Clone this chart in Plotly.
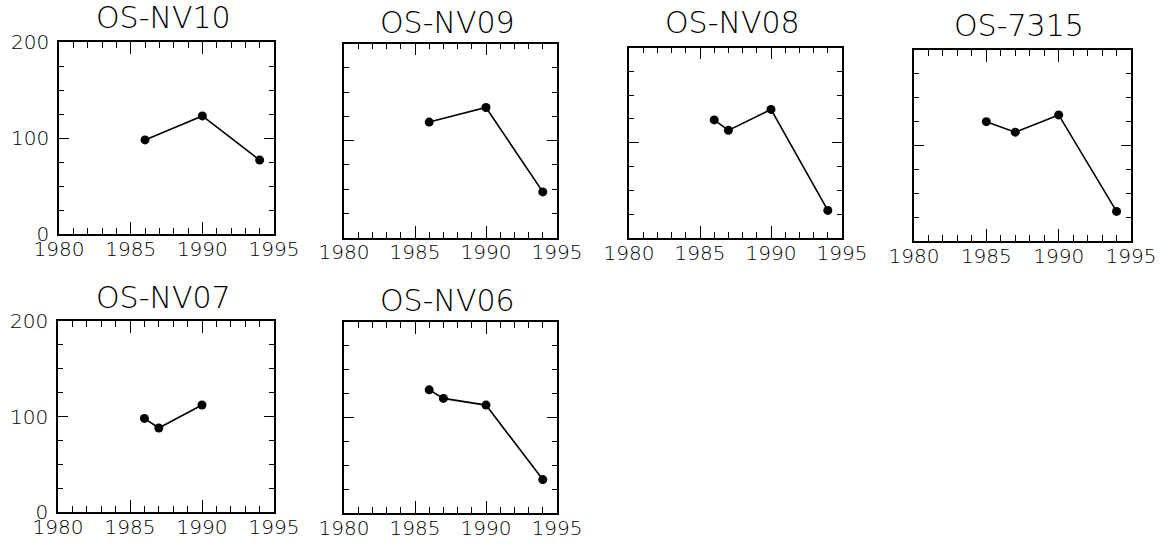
import plotly.graph_objects as go

W, H = 1168, 546

titles = ["OS-NV10", "OS-NV09", "OS-NV08", "OS-7315", "OS-NV07", "OS-NV06"]

years_nv10 = [1986, 1990, 1994]
vals_nv10 = [98, 123, 77]
years_nv09 = [1986, 1990, 1994]
vals_nv09 = [119, 134, 47]
years_nv08 = [1986, 1987, 1990, 1994]
vals_nv08 = [124, 113, 135, 29]
years_7315 = [1985, 1987, 1990, 1994]
vals_7315 = [125, 114, 132, 31]
years_nv07 = [1986, 1987, 1990]
vals_nv07 = [98, 88, 112]
years_nv06 = [1986, 1987, 1990, 1994]
vals_nv06 = [129, 120, 113, 35]

x_range = [1980, 1995]
y_range = [0, 200]
x_major = [1980, 1985, 1990, 1995]
y_major = [0, 100, 200]

series = [
    (years_nv10, vals_nv10),
    (years_nv09, vals_nv09),
    (years_nv08, vals_nv08),
    (years_7315, vals_7315),
    (years_nv07, vals_nv07),
    (years_nv06, vals_nv06),
]

# panel boxes in pixels: left, right, top, bottom
boxes = [
    (59, 274, 42, 234),
    (344, 557, 43.5, 237.5),
    (629, 842, 47.5, 238),
    (914, 1131, 50, 241),
    (58, 274, 321, 512),
    (344, 557, 322, 513),
]
title_y = [18, 23, 23, 25.5, 297, 300]
show_y_labels = [True, False, False, False, True, False]

FONT = "DejaVu Sans"
WEIGHT = 200
fig = go.Figure()
layout = dict(
    width=W, height=H, autosize=False,
    margin=dict(l=0, r=0, t=0, b=0, pad=0, autoexpand=False),
    paper_bgcolor="white", plot_bgcolor="white",
    showlegend=False,
    font=dict(family=FONT, weight=WEIGHT, size=20, color="black"),
)
annotations = []
for i, ((xs, ys), (l, r, t, b)) in enumerate(zip(series, boxes)):
    n = "" if i == 0 else str(i + 1)
    fig.add_trace(go.Scatter(
        x=xs, y=ys, mode="lines+markers",
        line=dict(color="black", width=1.6),
        marker=dict(color="black", size=9),
        xaxis="x" + n, yaxis="y" + n, cliponaxis=False,
    ))
    layout["xaxis" + n] = dict(
        domain=[l / W, r / W], anchor="y" + n, range=x_range,
        tickmode="array", tickvals=x_major, ticks="inside", ticklen=12,
        tickwidth=1.4, tickcolor="black",
        minor=dict(dtick=1, tick0=1980, ticks="inside", ticklen=6, tickwidth=1.4, tickcolor="black"),
        showline=True, linecolor="black", linewidth=1.6, mirror="ticks",
        showgrid=False, zeroline=False, fixedrange=True, automargin=False,
        ticklabelstandoff=-4,
        tickfont=dict(family=FONT, weight=WEIGHT, size=20, color="black"),
    )
    layout["yaxis" + n] = dict(
        domain=[1 - b / H, 1 - t / H], anchor="x" + n, range=y_range,
        tickmode="array", tickvals=y_major, ticks="inside", ticklen=10,
        tickwidth=1.4, tickcolor="black",
        minor=dict(dtick=25, tick0=0, ticks="inside", ticklen=5, tickwidth=1.4, tickcolor="black"),
        showline=True, linecolor="black", linewidth=1.6, mirror="ticks",
        showgrid=False, zeroline=False, fixedrange=True, automargin=False,
        showticklabels=show_y_labels[i], ticklabelstandoff=4,
        tickfont=dict(family=FONT, weight=WEIGHT, size=20, color="black"),
    )
    annotations.append(dict(
        text=titles[i], x=(l + r) / 2 / W - 3 / W, y=1 - title_y[i] / H,
        xref="paper", yref="paper", xanchor="center", yanchor="middle",
        showarrow=False, font=dict(family=FONT, weight=WEIGHT, size=30, color="black"),
    ))
layout["annotations"] = annotations
fig.update_layout(**layout)
fig.write_html("out.html")
